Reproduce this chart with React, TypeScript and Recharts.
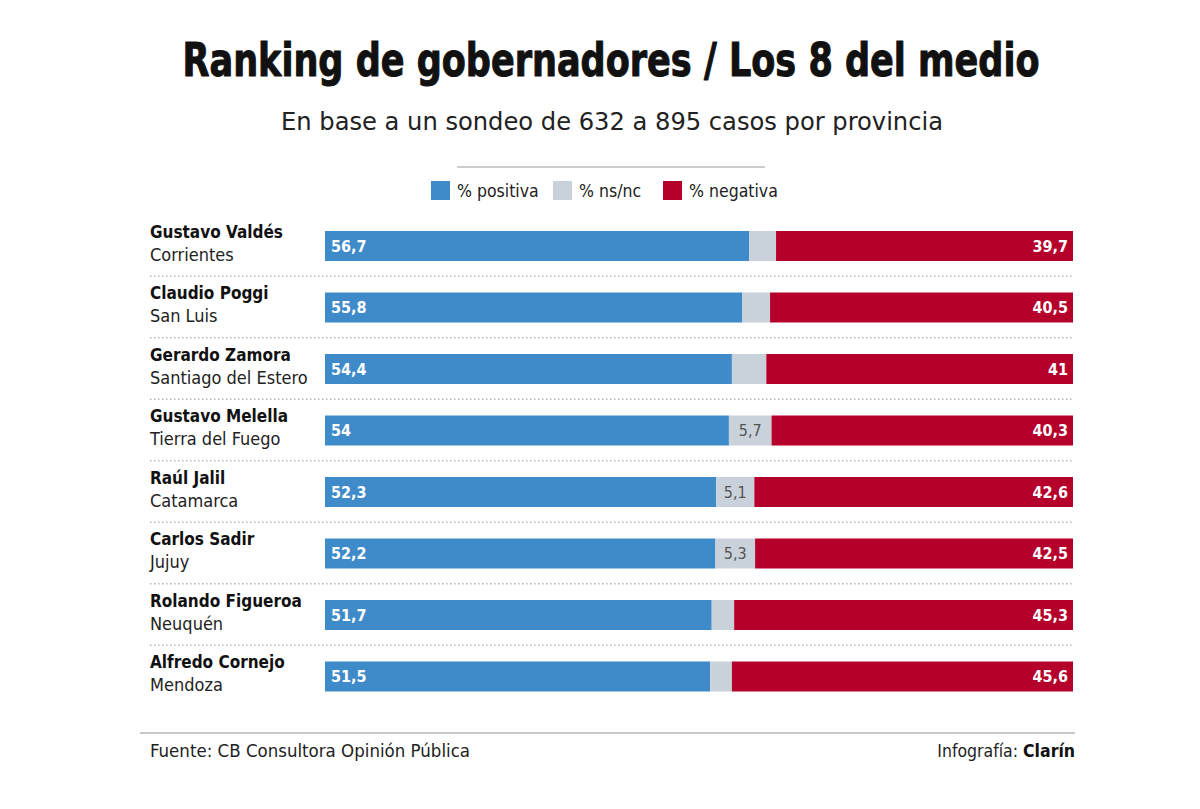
import React from "react";
import { BarChart, Bar, XAxis, YAxis, LabelList } from "recharts";

const governors = [
  "Gustavo Valdés",
  "Claudio Poggi",
  "Gerardo Zamora",
  "Gustavo Melella",
  "Raúl Jalil",
  "Carlos Sadir",
  "Rolando Figueroa",
  "Alfredo Cornejo",
];
const provinces = [
  "Corrientes",
  "San Luis",
  "Santiago del Estero",
  "Tierra del Fuego",
  "Catamarca",
  "Jujuy",
  "Neuquén",
  "Mendoza",
];
const positiva = [56.7, 55.8, 54.4, 54, 52.3, 52.2, 51.7, 51.5];
const nsnc = [3.6, 3.7, 4.6, 5.7, 5.1, 5.3, 3.0, 2.9];
const negativa = [39.7, 40.5, 41, 40.3, 42.6, 42.5, 45.3, 45.6];

const legendItems = [
  { label: "% positiva", color: "#3f8bca" },
  { label: "% ns/nc", color: "#c9d2da" },
  { label: "% negativa", color: "#b5002b" },
];

const data = governors.map((name, i) => ({
  name,
  province: provinces[i],
  positiva: positiva[i],
  nsnc: nsnc[i],
  negativa: negativa[i],
}));

const FONT = "'Liberation Sans Narrow', 'DejaVu Sans Condensed', 'Roboto Condensed', 'Liberation Sans', sans-serif";
const fmt = (v: number) => String(v).replace(".", ",");

const NameTick = ({ y, payload, index }: any) => {
  const left = 150;
  const row = data[index] || data.find((d) => d.name === payload.value);
  return (
    <g>
      <text x={left} y={y - 8} fontFamily={FONT} fontWeight={700} fontSize={17} fill="#111">
        {payload.value}
      </text>
      <text x={left} y={y + 15} fontFamily={FONT} fontSize={18} fill="#222">
        {row ? row.province : ""}
      </text>
      {index < data.length - 1 && (
        <line
          x1={left}
          x2={1073}
          y1={y + 30.5}
          y2={y + 30.5}
          stroke="#b8b8b8"
          strokeWidth={1.5}
          strokeDasharray="1.5 2.5"
        />
      )}
    </g>
  );
};

const PosLabel = ({ x, y, height, value }: any) => (
  <text x={x + 6} y={y + height / 2 + 5.5} fontFamily={FONT} fontWeight={700} fontSize={16} fill="#fff">
    {fmt(value)}
  </text>
);

const MidLabel = ({ x, y, width, height, value }: any) =>
  value >= 5 ? (
    <text
      x={x + width / 2}
      y={y + height / 2 + 5.5}
      textAnchor="middle"
      fontFamily={FONT}
      fontSize={16}
      fill="#555"
    >
      {fmt(value)}
    </text>
  ) : null;

const NegLabel = ({ x, y, width, height, value }: any) => (
  <text
    x={x + width - 5}
    y={y + height / 2 + 5.5}
    textAnchor="end"
    fontFamily={FONT}
    fontWeight={700}
    fontSize={16}
    fill="#fff"
  >
    {fmt(value)}
  </text>
);

export default function App() {
  return (
    <div style={{ position: "absolute", left: 0, top: 0, width: 1200, height: 809, background: "#fff" }}>
      <svg width={1200} height={809} style={{ position: "absolute", left: 0, top: 0 }}>
        <text
          x={611}
          y={76}
          textAnchor="middle"
          fontFamily={FONT}
          fontWeight={700}
          fontSize={46}
          fill="#111"
          stroke="#111"
          strokeWidth={1}
          strokeLinejoin="round"
          textLength={857}
          lengthAdjust="spacingAndGlyphs"
        >
          Ranking de gobernadores / Los 8 del medio
        </text>
        <text
          x={612}
          y={130}
          textAnchor="middle"
          fontFamily={FONT}
          fontSize={25}
          fill="#222"
          textLength={662}
          lengthAdjust="spacingAndGlyphs"
        >
          En base a un sondeo de 632 a 895 casos por provincia
        </text>
        <line x1={457} x2={765} y1={167} y2={167} stroke="#bbb" strokeWidth={1.5} />
        {legendItems.map((item, i) => {
          const xs = [431, 553, 663];
          return (
            <g key={item.label}>
              <rect x={xs[i]} y={181} width={19} height={19} fill={item.color} />
              <text x={xs[i] + 26} y={197} fontFamily={FONT} fontSize={17.5} fill="#222">
                {item.label}
              </text>
            </g>
          );
        })}
        <line x1={140} x2={1075} y1={733} y2={733} stroke="#c8c8c8" strokeWidth={2} />
        <text x={150} y={757} fontFamily={FONT} fontSize={18} fill="#222" textLength={320} lengthAdjust="spacingAndGlyphs">
          Fuente: CB Consultora Opinión Pública
        </text>
        <text x={1075} y={757} textAnchor="end" fontFamily={FONT} fontSize={17.5} fill="#222">
          Infografía: <tspan fontWeight={700} fill="#111">Clarín</tspan>
        </text>
      </svg>
      <div style={{ position: "absolute", left: 0, top: 0 }}>
        <BarChart
          width={1200}
          height={809}
          data={data}
          layout="vertical"
          margin={{ top: 215, right: 127, bottom: 102, left: 150 }}
        >
          <XAxis type="number" domain={[0, 100]} hide />
          <YAxis
            type="category"
            dataKey="name"
            width={175}
            axisLine={false}
            tickLine={false}
            tick={<NameTick />}
            interval={0}
          />
          <Bar dataKey="positiva" stackId="a" fill="#3f8bca" barSize={30} isAnimationActive={false}>
            <LabelList dataKey="positiva" content={<PosLabel />} />
          </Bar>
          <Bar dataKey="nsnc" stackId="a" fill="#c9d2da" barSize={30} isAnimationActive={false}>
            <LabelList dataKey="nsnc" content={<MidLabel />} />
          </Bar>
          <Bar dataKey="negativa" stackId="a" fill="#b5002b" barSize={30} isAnimationActive={false}>
            <LabelList dataKey="negativa" content={<NegLabel />} />
          </Bar>
        </BarChart>
      </div>
    </div>
  );
}
